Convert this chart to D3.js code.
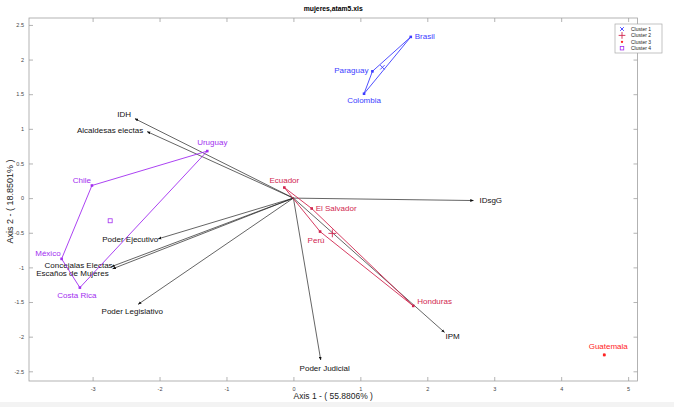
<!DOCTYPE html>
<html>
<head>
<meta charset="utf-8">
<script src="https://cdn.jsdelivr.net/npm/d3@7"></script>
<style>
  html, body { margin: 0; padding: 0; background: #fff; }
  svg { display: block; font-family: "Liberation Sans", Arial, Helvetica, sans-serif; }
</style>
</head>
<body>
<svg id="chart" width="674" height="407"></svg>
<script>
// ---------------- DATA ----------------
const countries = ["Brasil","Paraguay","Colombia","Ecuador","El Salvador","Perú","Honduras","Guatemala","Chile","Uruguay","México","Costa Rica"];
const axis1Scores = [1.753, 1.18, 1.055, -0.136, 0.273, 0.398, 1.79, 4.643, -3.01, -1.287, -3.463, -3.19];
const axis2Scores = [2.327, 1.83, 1.507, 0.153, -0.150, -0.483, -1.556, -2.264, 0.182, 0.679, -0.877, -1.292];
const clusterOf = [1, 1, 1, 2, 2, 2, 2, 3, 4, 4, 4, 4];

const clusterNames = ["Cluster 1", "Cluster 2", "Cluster 3", "Cluster 4"];

const variables = ["IDH","Alcaldesas electas","IDsgG","IPM","Poder Judicial","Poder Legislativo","Poder Ejecutivo","Concejalas Electas","Escaños de Mujeres"];
const varAxis1 = [-2.367, -2.184, 2.689, 2.256, 0.408, -2.318, -2.019, -2.716, -2.70];
const varAxis2 = [1.146, 0.959, -0.035, -1.937, -2.337, -1.532, -0.588, -0.988, -1.02];

const xTicks = [-3, -2, -1, 0, 1, 2, 3, 4, 5];
const yTicks = [-2.5, -2, -1.5, -1, -0.5, 0, 0.5, 1, 1.5, 2, 2.5];
const xDomain = [-3.95, 5.14];
const yDomain = [-2.64, 2.6];

const titleText = "mujeres,atam5.xls";
const xLabel = "Axis 1 - ( 55.8806% )";
const yLabel = "Axis 2 - ( 18.8501% )";

// ---------------- STYLES / PLACEMENT ----------------
const clusterColors = {1: "#3c3cff", 2: "#d1264f", 3: "#ff2424", 4: "#a22ef0"};
const clusterSymbols = {1: d3.symbolTimes, 2: d3.symbolPlus, 3: d3.symbolAsterisk, 4: null};
const clusterSymbolSize = {1: 14, 2: 22, 3: 10, 4: 14};

const countryLabelPlace = {
  "Brasil": ["start", 4, 0], "Paraguay": ["end", -4, -1], "Colombia": ["middle", 0, 7],
  "Ecuador": ["middle", 0, -7], "El Salvador": ["start", 4, 0], "Perú": ["middle", -4, 9],
  "Honduras": ["start", 4, -4], "Guatemala": ["middle", 4, -8], "Chile": ["middle", -10, -5],
  "Uruguay": ["middle", 5, -9], "México": ["end", -1, -5], "Costa Rica": ["middle", -3, 8]
};
const varLabelPlace = {
  "IDH": ["end", -4, -4], "Alcaldesas electas": ["end", -4, -1], "IDsgG": ["start", 6, 0],
  "IPM": ["start", 1, 4], "Poder Judicial": ["middle", 4, 8], "Poder Legislativo": ["middle", -6, 7],
  "Poder Ejecutivo": ["end", 0, 1], "Concejalas Electas": ["end", 1, -1], "Escaños de Mujeres": ["end", -4, 5]
};

// ---------------- CHART ----------------
const svg = d3.select("#chart");
const plot = {left: 29, top: 18, right: 637.5, bottom: 381};

svg.append("rect").attr("x", 0).attr("y", 402).attr("width", 674).attr("height", 5).attr("fill", "#f3f3f3");

const x = d3.scaleLinear().domain(xDomain).range([plot.left, plot.right]);
const y = d3.scaleLinear().domain(yDomain).range([plot.bottom, plot.top]);

const axisColor = "#a0a0a0";
const tickLen = 4;
const fmt = d => String(d);

function styleAxis(g) {
  g.select(".domain").remove();
  g.selectAll(".tick line").attr("stroke", axisColor).attr("stroke-width", 0.8);
  g.selectAll(".tick text").attr("fill", "#444").attr("font-size", 5.5);
}

svg.append("g").attr("transform", `translate(0,${plot.bottom})`)
  .call(d3.axisBottom(x).tickValues(xTicks).tickSize(-tickLen).tickPadding(6).tickFormat(fmt))
  .call(styleAxis);
svg.append("g").attr("transform", `translate(0,${plot.top})`)
  .call(d3.axisTop(x).tickValues(xTicks).tickSize(-tickLen).tickFormat(""))
  .call(styleAxis);
svg.append("g").attr("transform", `translate(${plot.left},0)`)
  .call(d3.axisLeft(y).tickValues(yTicks).tickSize(-tickLen).tickPadding(5).tickFormat(fmt))
  .call(styleAxis);
svg.append("g").attr("transform", `translate(${plot.right},0)`)
  .call(d3.axisRight(y).tickValues(yTicks).tickSize(-tickLen).tickFormat(""))
  .call(styleAxis);

svg.append("rect").attr("x", plot.left).attr("y", plot.top)
  .attr("width", plot.right - plot.left).attr("height", plot.bottom - plot.top)
  .attr("fill", "none").attr("stroke", axisColor).attr("stroke-width", 0.8);

svg.append("text").attr("x", (plot.left + plot.right) / 2).attr("y", 11)
  .attr("text-anchor", "middle").attr("font-size", 6.8).attr("font-weight", "bold").attr("fill", "#000")
  .text(titleText);
svg.append("text").attr("x", (plot.left + plot.right) / 2).attr("y", 399)
  .attr("text-anchor", "middle").attr("font-size", 8.5).attr("fill", "#222").text(xLabel);
svg.append("text").attr("transform", `translate(13,${(plot.top + plot.bottom) / 2 + 2}) rotate(-90)`)
  .attr("text-anchor", "middle").attr("font-size", 9).attr("fill", "#222").text(yLabel);

svg.append("defs").append("marker")
  .attr("id", "arrow").attr("viewBox", "0 0 10 10").attr("refX", 9).attr("refY", 5)
  .attr("markerWidth", 3.5).attr("markerHeight", 3.5).attr("markerUnits", "userSpaceOnUse")
  .attr("orient", "auto")
  .append("path").attr("d", "M0,1 L10,5 L0,9 z").attr("fill", "#111");

const vars = variables.map((v, i) => ({name: v, a1: varAxis1[i], a2: varAxis2[i]}));
const gVars = svg.append("g");
gVars.selectAll("line").data(vars).join("line")
  .attr("x1", x(0)).attr("y1", y(0))
  .attr("x2", d => x(d.a1)).attr("y2", d => y(d.a2))
  .attr("stroke", "#222").attr("stroke-width", 0.7)
  .attr("marker-end", "url(#arrow)");
gVars.selectAll("text").data(vars).join("text")
  .attr("x", d => x(d.a1) + varLabelPlace[d.name][1])
  .attr("y", d => y(d.a2) + varLabelPlace[d.name][2])
  .attr("text-anchor", d => varLabelPlace[d.name][0])
  .attr("dominant-baseline", "central")
  .attr("font-size", 8).attr("fill", "#111")
  .text(d => d.name);

const pts = countries.map((c, i) => ({name: c, a1: axis1Scores[i], a2: axis2Scores[i], k: clusterOf[i]}));
const groups = d3.groups(pts, d => d.k).sort((a, b) => a[0] - b[0]);

function drawMarker(g, k, px, py, size) {
  const col = clusterColors[k];
  if (k === 4) {
    const s = size;
    g.append("rect").attr("x", px - s / 2).attr("y", py - s / 2).attr("width", s).attr("height", s)
      .attr("fill", "none").attr("stroke", col).attr("stroke-width", 0.8);
  } else if (k === 3) {
    g.append("circle").attr("cx", px).attr("cy", py).attr("r", size / 3)
      .attr("fill", col);
  } else {
    g.append("path").attr("transform", `translate(${px},${py})`)
      .attr("d", d3.symbol(clusterSymbols[k], clusterSymbolSize[k] * (size / 4) * (size / 4))())
      .attr("fill", "none").attr("stroke", col).attr("stroke-width", 0.9);
  }
}

const gClust = svg.append("g");
groups.forEach(([k, members]) => {
  const col = clusterColors[k];
  if (members.length >= 3) {
    const hull = d3.polygonHull(members.map(d => [x(d.a1), y(d.a2)]));
    gClust.append("path").attr("d", "M" + hull.join("L") + "Z")
      .attr("fill", "none").attr("stroke", col).attr("stroke-width", 0.9);
  }
  gClust.selectAll(null).data(members).join("rect")
    .attr("x", d => x(d.a1) - 1.3).attr("y", d => y(d.a2) - 1.3)
    .attr("width", 2.6).attr("height", 2.6).attr("fill", col);
  const cx = d3.mean(members, d => d.a1), cy = d3.mean(members, d => d.a2);
  drawMarker(gClust, k, x(cx), y(cy), 4);
  gClust.selectAll(null).data(members).join("text")
    .attr("x", d => x(d.a1) + countryLabelPlace[d.name][1])
    .attr("y", d => y(d.a2) + countryLabelPlace[d.name][2])
    .attr("text-anchor", d => countryLabelPlace[d.name][0])
    .attr("dominant-baseline", "central")
    .attr("font-size", 8).attr("fill", col)
    .text(d => d.name);
});

const lg = svg.append("g").attr("transform", "translate(615,24)");
lg.append("rect").attr("width", 47).attr("height", 29).attr("fill", "#fff")
  .attr("stroke", "#aaa").attr("stroke-width", 0.7);
clusterNames.forEach((n, i) => {
  const k = i + 1;
  const yy = 5 + i * 6.4;
  drawMarker(lg, k, 7, yy, 3.5);
  lg.append("text").attr("x", 16).attr("y", yy).attr("dominant-baseline", "central")
    .attr("font-size", 5).attr("fill", "#222").text(n);
});
</script>
</body>
</html>
